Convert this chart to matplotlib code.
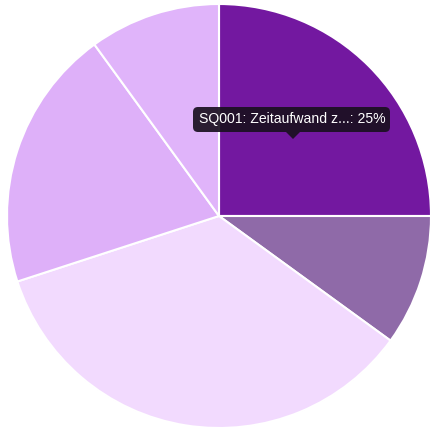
import matplotlib
matplotlib.use("Agg")
import matplotlib.pyplot as plt
from matplotlib.patches import FancyBboxPatch, Polygon

labels = ["SQ001", "SQ002", "SQ003", "SQ004", "SQ005"]
values = [25, 10, 35, 20, 10]
colors = ["#7318a0", "#8f6aa8", "#f2dafe", "#deb0f9", "#e0b4fa"]
tooltip = "SQ001: Zeitaufwand z...: 25%"

fig = plt.figure(figsize=(4.38, 4.38), dpi=100)
ax = fig.add_axes([0, 0, 1, 1])
ax.set_xlim(0, 438)
ax.set_ylim(0, 438)
ax.set_aspect("equal")
ax.axis("off")

ax.pie(values, colors=colors, startangle=90, counterclock=False,
       center=(219, 222), radius=212,
       wedgeprops=dict(edgecolor="white", linewidth=1.5))
ax.set_xlim(0, 438)
ax.set_ylim(0, 438)

# tooltip
box = FancyBboxPatch((193, 438 - 132), 197, 25, boxstyle="round,pad=0,rounding_size=5",
                     facecolor="#1a1020", edgecolor="none", alpha=0.92, zorder=5)
ax.add_patch(box)
tri = Polygon([(286, 438 - 132), (300, 438 - 132), (293, 438 - 139)], closed=True,
              facecolor="#1a1020", edgecolor="none", alpha=0.92, zorder=5)
ax.add_patch(tri)
ax.text(292, 438 - 119.5, tooltip, color="white", fontsize=10.1, ha="center", va="center",
        family="Liberation Sans", zorder=6)

fig.savefig("out.png", dpi=100)
